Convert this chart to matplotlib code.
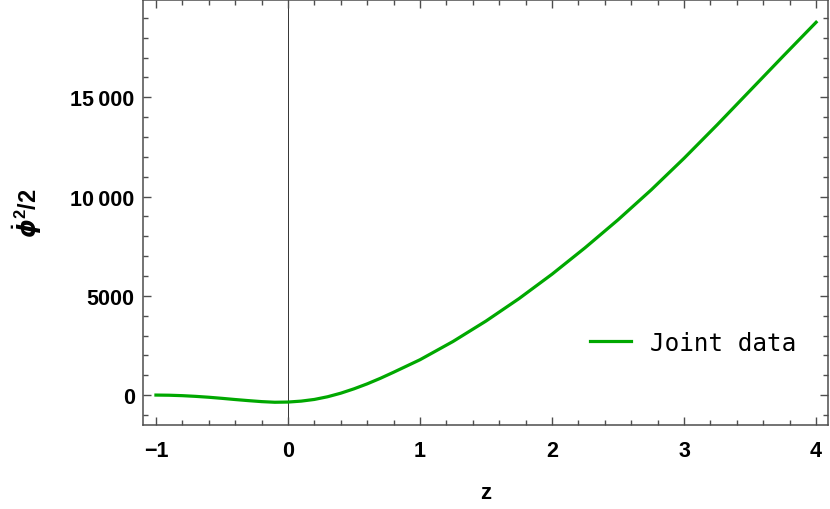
import matplotlib
matplotlib.use('Agg')
import matplotlib.pyplot as plt
from matplotlib.ticker import MultipleLocator, FuncFormatter

# values
z_vals = [-1.0, -0.9, -0.8, -0.7, -0.6, -0.5, -0.4, -0.3, -0.2, -0.1, 0.0,
          0.1, 0.2, 0.3, 0.4, 0.5, 0.6, 0.7, 0.8, 0.9, 1.0,
          1.25, 1.5, 1.75, 2.0, 2.25, 2.5, 2.75, 3.0, 3.25, 3.5, 3.75, 4.0]
kin_vals = [0, -8, -30, -65, -110, -165, -225, -280, -330, -362, -352,
            -305, -220, -85, 95, 315, 565, 845, 1150, 1465, 1780,
            2700, 3730, 4860, 6090, 7420, 8830, 10330, 11930, 13610, 15340, 17070, 18780]
legend_label = 'Joint data'

plt.rcParams['mathtext.fontset'] = 'custom'
plt.rcParams['mathtext.rm'] = 'Liberation Sans:bold'
plt.rcParams['mathtext.it'] = 'DejaVu Sans:italic:bold'
plt.rcParams['mathtext.bf'] = 'Liberation Sans:bold'

fig = plt.figure(figsize=(8.3, 5.1), dpi=100)
ax = fig.add_axes([0.1723, 0.1647, 0.8253, 0.8333])

ax.plot(z_vals, kin_vals, color='#00a800', lw=2.3, label=legend_label)
ax.axvline(0, color='#333333', lw=0.7, zorder=1)

ax.set_xlim(-1.098, 4.09)
ax.set_ylim(-1508, 19900)

ax.xaxis.set_major_locator(MultipleLocator(1))
ax.xaxis.set_minor_locator(MultipleLocator(0.2))
ax.yaxis.set_major_locator(MultipleLocator(5000))
ax.yaxis.set_minor_locator(MultipleLocator(1000))


def fmt_y(v, pos):
    v = int(round(v))
    if abs(v) >= 10000:
        s = '{:,}'.format(v).replace(',', '\u2009')
    else:
        s = str(v)
    return s.replace('-', '\u2212')


def fmt_x(v, pos):
    return str(int(round(v))).replace('-', '\u2212')


ax.yaxis.set_major_formatter(FuncFormatter(fmt_y))
ax.xaxis.set_major_formatter(FuncFormatter(fmt_x))

frame_col = '#4d4d4d'
for sp in ax.spines.values():
    sp.set_color(frame_col)
    sp.set_linewidth(1.1)

ax.tick_params(which='both', direction='in', top=True, right=True, color=frame_col, width=1.0)
ax.tick_params(which='major', length=6)
ax.tick_params(which='minor', length=3.5)
ax.tick_params(axis='x', which='major', pad=11)
ax.tick_params(axis='y', which='major', pad=6)

for lab in ax.get_xticklabels() + ax.get_yticklabels():
    lab.set_family('Liberation Sans')
    lab.set_fontweight('bold')
    lab.set_fontsize(15.5)

ax.set_xlabel('z', fontsize=16, fontweight='bold', family='Liberation Sans', labelpad=15)
ax.set_ylabel(r'$\dot{\phi}^{\mathbf{2}}\mathbf{/2}$', fontsize=17, labelpad=20)

leg = ax.legend(loc='center left', bbox_to_anchor=(0.62, 0.193), frameon=False,
                prop={'family': 'DejaVu Sans Mono', 'size': 17.5},
                handlelength=1.7, handletextpad=0.78)

fig.savefig('out.png', dpi=100)
